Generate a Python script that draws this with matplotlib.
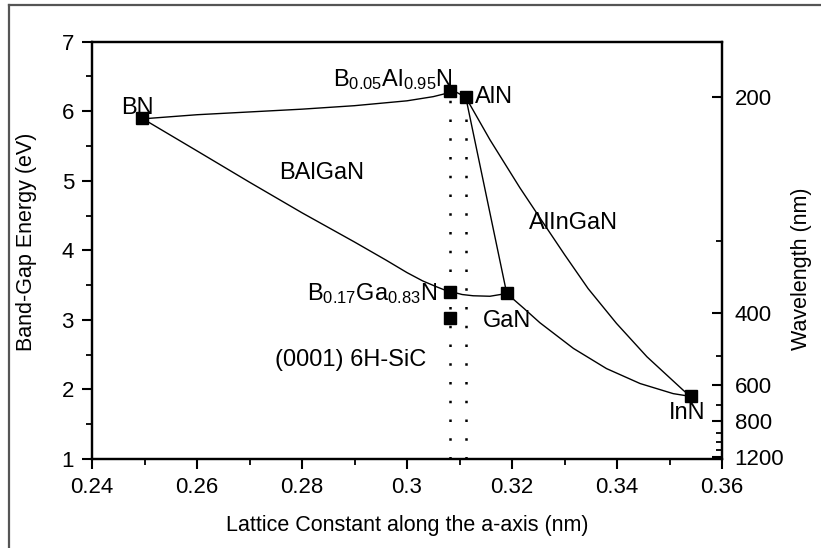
import matplotlib
matplotlib.use('Agg')
import matplotlib.pyplot as plt
from matplotlib.lines import Line2D

plt.rcParams['font.family'] = ['Liberation Sans', 'DejaVu Sans']
plt.rcParams['mathtext.fontset'] = 'custom'
plt.rcParams['mathtext.rm'] = 'Liberation Sans'
plt.rcParams['mathtext.it'] = 'Liberation Sans:italic'
plt.rcParams['mathtext.bf'] = 'Liberation Sans:bold'

# ---- data ----
point_names = ['BN', 'B0.05Al0.95N', 'AlN', 'B0.17Ga0.83N', 'GaN', 'InN', '6H-SiC']
point_a = [0.2495, 0.3082, 0.3112, 0.3082, 0.3190, 0.3540, 0.3082]
point_eg = [5.90, 6.29, 6.20, 3.40, 3.38, 1.90, 3.03]

# BN - B0.05Al0.95N - AlN curve
bn_aln_a = [0.2495, 0.260, 0.270, 0.280, 0.290, 0.300, 0.305, 0.3082, 0.3095, 0.3112]
bn_aln_eg = [5.89, 5.95, 5.99, 6.03, 6.08, 6.15, 6.21, 6.27, 6.27, 6.20]

# BN - B0.17Ga0.83N - GaN curve
bn_gan_a = [0.2495, 0.260, 0.270, 0.280, 0.290, 0.296, 0.300, 0.303, 0.3055, 0.3070,
            0.3082, 0.3105, 0.3126, 0.3158, 0.3190]
bn_gan_eg = [5.90, 5.43, 4.98, 4.54, 4.12, 3.86, 3.68, 3.56, 3.48, 3.435,
             3.41, 3.365, 3.347, 3.34, 3.38]

# GaN - InN curve
gan_inn_a = [0.3190, 0.3222, 0.3253, 0.3317, 0.3380, 0.3444, 0.3507, 0.3540]
gan_inn_eg = [3.38, 3.17, 2.96, 2.59, 2.30, 2.085, 1.94, 1.90]

# AlN - InN curve
aln_inn_a = [0.3112, 0.3158, 0.3215, 0.3260, 0.3300, 0.3345, 0.3399, 0.3457, 0.3526, 0.3540]
aln_inn_eg = [6.20, 5.59, 4.90, 4.39, 3.94, 3.45, 2.95, 2.47, 1.99, 1.90]

# AlN - GaN line
aln_gan_a = [0.3112, 0.3190]
aln_gan_eg = [6.20, 3.38]

# vertical dotted lattice-match lines
dotted_a = [0.3082, 0.3112]
dotted_top = [6.29, 6.20]

x_ticks = [0.24, 0.26, 0.28, 0.30, 0.32, 0.34, 0.36]
x_ticklabels = ['0.24', '0.26', '0.28', '0.3', '0.32', '0.34', '0.36']
y_ticks = [1, 2, 3, 4, 5, 6, 7]
wl_major = [200, 400, 600, 800, 1200]
wl_minor = [300, 500, 700, 900, 1000, 1100]

fig = plt.figure(figsize=(8.21, 5.48), dpi=100)
ax = fig.add_axes([92/821, 1 - 459/548, (722-92)/821, (459-41.7)/548])

lc = 'black'
lw = 1.0
for xa, ye in [(bn_aln_a, bn_aln_eg), (bn_gan_a, bn_gan_eg), (gan_inn_a, gan_inn_eg),
               (aln_inn_a, aln_inn_eg), (aln_gan_a, aln_gan_eg)]:
    ax.plot(xa, ye, color=lc, lw=lw, zorder=2, solid_joinstyle='round')

for xa, top in zip(dotted_a, dotted_top):
    ax.plot([xa, xa], [1.0, top], color='black', lw=1.8,
            linestyle=(0, (1, 6.5)), dash_capstyle='butt', zorder=1)

ax.plot(point_a, point_eg, linestyle='none', marker='s', ms=8.5,
        color='black', zorder=3)

ax.set_xlim(0.24, 0.36)
ax.set_ylim(1, 7)
ax.set_xticks(x_ticks)
ax.set_xticklabels(x_ticklabels)
ax.set_xticks([0.25, 0.27, 0.29, 0.31, 0.33, 0.35], minor=True)
ax.set_yticks(y_ticks)
ax.set_yticks([1.5, 2.5, 3.5, 4.5, 5.5, 6.5], minor=True)
ax.tick_params(axis='both', which='major', direction='out', length=7, width=1.5,
               labelsize=16, pad=6)
ax.tick_params(axis='both', which='minor', direction='out', length=4, width=1.3)
ax.tick_params(axis='y', which='both', right=False)
ax.tick_params(axis='x', which='both', top=False)
for s in ax.spines.values():
    s.set_linewidth(1.6)

ax.set_xlabel('Lattice Constant along the a-axis (nm)', fontsize=15.5)
ax.set_ylabel('Band-Gap Energy (eV)', fontsize=15.5)
ax.xaxis.set_label_coords(0.5, -0.135)
ax.yaxis.set_label_coords(-0.087, 0.52)

ax2 = ax.twinx()
ax2.set_ylim(1, 7)
ax2.set_yticks([1240.0 / w for w in wl_major])
ax2.set_yticklabels([str(w) for w in wl_major])
ax2.set_yticks([1240.0 / w for w in wl_minor], minor=True)
ax2.tick_params(axis='y', which='major', direction='in', length=7, width=1.5,
                labelsize=16, pad=9)
ax2.tick_params(axis='y', which='minor', direction='in', length=4, width=1.3)
ax2.set_ylabel('Wavelength (nm)', fontsize=15.5)
ax2.yaxis.set_label_coords(1.11, 0.455)
for s in ax2.spines.values():
    s.set_linewidth(1.6)

fs = 17
ax.text(0.2486, 6.04, 'BN', fontsize=fs, ha='center', va='center')
ax.text(0.3088, 6.36, r'B$_{0.05}$Al$_{0.95}$N', fontsize=fs, ha='right', va='baseline')
ax.text(0.3130, 6.20, 'AlN', fontsize=fs, ha='left', va='center')
ax.text(0.2838, 5.11, 'BAlGaN', fontsize=fs, ha='center', va='center')
ax.text(0.3318, 4.40, 'AlInGaN', fontsize=fs, ha='center', va='center')
ax.text(0.3058, 3.28, r'B$_{0.17}$Ga$_{0.83}$N', fontsize=fs, ha='right', va='baseline')
ax.text(0.3190, 2.98, 'GaN', fontsize=fs, ha='center', va='center')
ax.text(0.2893, 2.42, '(0001) 6H-SiC', fontsize=fs, ha='center', va='center')
ax.text(0.3533, 1.66, 'InN', fontsize=fs, ha='center', va='center')

# outer frame of the figure
fig.add_artist(Line2D([9/821, 9/821], [0, 1 - 5/548], transform=fig.transFigure,
                      color='#555555', lw=1.6))
fig.add_artist(Line2D([9/821, 1], [1 - 5/548, 1 - 5/548], transform=fig.transFigure,
                      color='#555555', lw=1.6))

fig.savefig('out.png', dpi=100)
